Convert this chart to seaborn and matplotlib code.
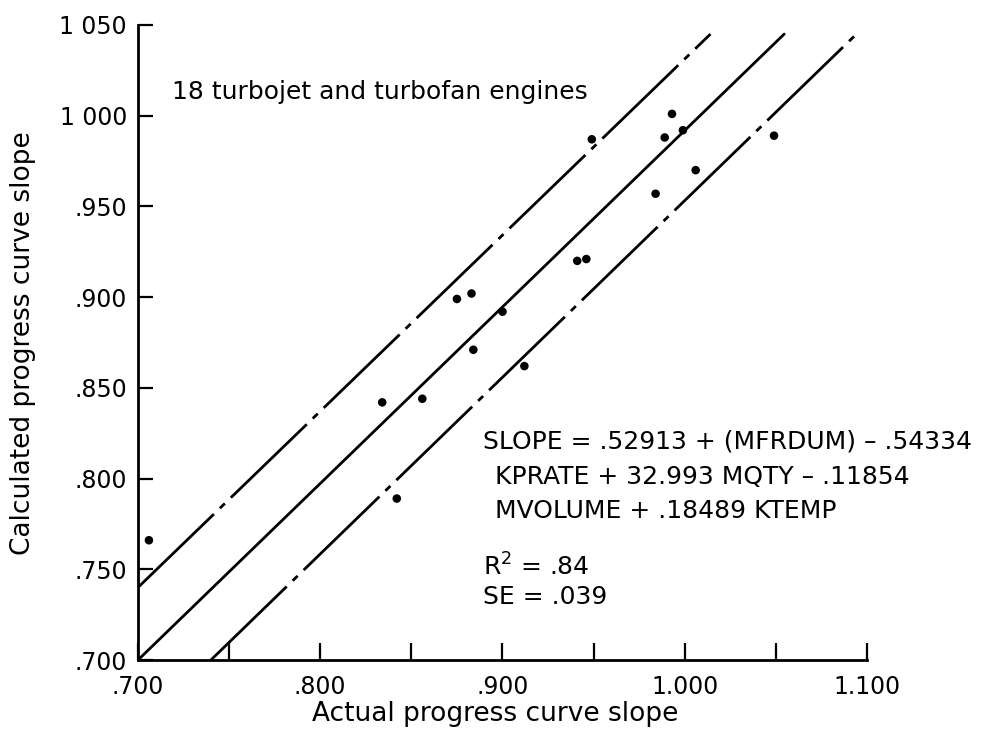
import matplotlib
matplotlib.use("Agg")
import matplotlib.pyplot as plt
import seaborn as sns
import pandas as pd
import numpy as np

# Data
actual = [0.706, 0.842, 0.834, 0.856, 0.875, 0.883, 0.900, 0.884, 0.912,
          0.941, 0.946, 0.949, 0.993, 0.989, 0.999, 0.984, 1.006, 1.049]
calculated = [0.766, 0.789, 0.842, 0.844, 0.899, 0.902, 0.892, 0.871, 0.862,
              0.920, 0.921, 0.987, 1.001, 0.988, 0.992, 0.957, 0.970, 0.989]

# Reference lines: fitted line and +/- band (slope, start point as read)
line_names = ["upper", "center", "lower"]
line_slope = [0.971, 0.973, 0.974]
line_x_start = [0.700, 0.700, 0.740]
line_y_start = [0.740, 0.700, 0.700]
line_y_end = 1.045

x_ticks = [0.70, 0.75, 0.80, 0.85, 0.90, 0.95, 1.00, 1.05, 1.10]
x_tick_labels = [".700", "", ".800", "", ".900", "", "1.000", "", "1.100"]
y_ticks = [0.70, 0.75, 0.80, 0.85, 0.90, 0.95, 1.00, 1.05]
y_tick_labels = [".700", ".750", ".800", ".850", ".900", ".950", "1 000", "1 050"]

sns.set_theme(style="white")
plt.rcParams['font.family'] = ['DejaVu Sans']
plt.rcParams['text.color'] = 'black'
plt.rcParams['axes.labelcolor'] = 'black'
plt.rcParams['xtick.color'] = 'black'
plt.rcParams['ytick.color'] = 'black'

fig = plt.figure(figsize=(9.89, 7.46), dpi=100)
ax = fig.add_axes([138/989, 1-660/746, (867-138)/989, (660-25)/746])

rows = []
for name, m, x0, y0 in zip(line_names, line_slope, line_x_start, line_y_start):
    x1 = x0 + (line_y_end - y0) / m
    rows.append({"line": name, "x": x0, "y": y0})
    rows.append({"line": name, "x": x1, "y": line_y_end})
lines_df = pd.DataFrame(rows)

dash = (38, 3, 2.5, 3)
sns.lineplot(data=lines_df, x="x", y="y", style="line",
             dashes={"upper": dash, "center": "", "lower": dash},
             color="black", linewidth=2.0, legend=False, ax=ax,
             estimator=None, sort=False)

pts = pd.DataFrame({"actual": actual, "calculated": calculated})
sns.scatterplot(data=pts, x="actual", y="calculated", color="black", s=38,
                edgecolor="none", ax=ax, zorder=5, clip_on=False)

ax.set_xlim(0.70, 1.10)
ax.set_ylim(0.70, 1.05)
ax.set_xticks(x_ticks)
ax.set_xticklabels(x_tick_labels)
ax.set_yticks(y_ticks)
ax.set_yticklabels(y_tick_labels)

for s in ["top", "right"]:
    ax.spines[s].set_visible(False)
for s in ["left", "bottom"]:
    ax.spines[s].set_color("black")
    ax.spines[s].set_linewidth(2.0)

ax.tick_params(axis="x", direction="in", length=12, width=1.6, color="black",
               labelsize=17, pad=11, bottom=True)
ax.tick_params(axis="y", direction="in", length=11, width=1.6, color="black",
               labelsize=17, pad=8, left=True)

ax.set_xlabel("Actual progress curve slope", fontsize=19)
ax.set_ylabel("Calculated progress curve slope", fontsize=19)
ax.xaxis.set_label_coords((495-138)/729, -(701-660)/635)
ax.yaxis.set_label_coords(-(138-36)/729, (660-343)/635)

fs = 18
fig.text(172/989, 1-92/746, "18 turbojet and turbofan engines", fontsize=fs,
         ha="left", va="center")
fig.text(483/989, 1-442/746, "SLOPE = .52913 + (MFRDUM) \u2013 .54334", fontsize=fs,
         ha="left", va="center")
fig.text(495/989, 1-477/746, "KPRATE + 32.993 MQTY \u2013 .11854", fontsize=fs,
         ha="left", va="center")
fig.text(495/989, 1-511/746, "MVOLUME + .18489 KTEMP", fontsize=fs,
         ha="left", va="center")
fig.text(483/989, 1-567/746, "R$^2$ = .84", fontsize=fs, ha="left", va="center")
fig.text(483/989, 1-597/746, "SE = .039", fontsize=fs, ha="left", va="center")

fig.savefig("out.png", dpi=100, facecolor="white")
